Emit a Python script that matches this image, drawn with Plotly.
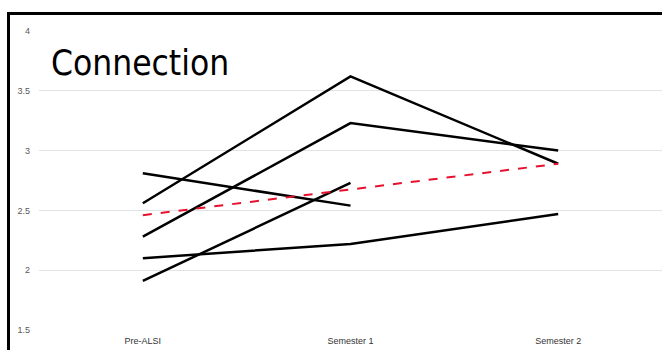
import plotly.graph_objects as go

categories = ["Pre-ALSI", "Semester 1", "Semester 2"]
student_a = [2.56, 3.62, 2.89]
student_b = [2.28, 3.23, 3.00]
student_c = [2.81, 2.54, None]
student_d = [1.91, 2.73, None]
student_e = [2.10, 2.22, 2.47]
trend = [2.46, 2.675, 2.89]

y_ticks = [1.5, 2, 2.5, 3, 3.5, 4]
y_ticktext = ["1.5", "2", "2.5", "3", "3.5", "4"]

fig = go.Figure()
for name, vals in [("A", student_a), ("B", student_b), ("C", student_c),
                   ("D", student_d), ("E", student_e)]:
    fig.add_trace(go.Scatter(x=categories, y=vals, mode="lines", name=name,
                             line=dict(color="black", width=2.5),
                             connectgaps=False, showlegend=False))
fig.add_trace(go.Scatter(x=categories, y=trend, mode="lines", name="Trend",
                         line=dict(color="#e8112d", width=2, dash="dash"),
                         showlegend=False))

fig.update_layout(
    width=662, height=350,
    margin=dict(l=39, r=0, t=31, b=20),
    paper_bgcolor="white", plot_bgcolor="white",
    font=dict(family="Liberation Sans, Arial, sans-serif", size=9, color="#595959"),
    xaxis=dict(type="category", range=[-0.5, 2.5], showgrid=False, zeroline=False,
               showline=False, ticks="", ticklabelstandoff=4,
               tickfont=dict(size=9, color="#333333")),
    yaxis=dict(range=[1.5, 4], tickvals=y_ticks, ticktext=y_ticktext,
               showgrid=True, gridcolor="#e2e2e2", gridwidth=1, zeroline=False,
               showline=False, ticks="", ticklabelstandoff=8,
               tickfont=dict(size=9, color="#595959")),
    annotations=[
        dict(text="Connection", xref="paper", yref="paper",
             x=0.016, y=0.894, xanchor="left", yanchor="middle",
             showarrow=False,
             font=dict(family="DejaVu Sans Condensed, sans-serif",
                       size=35, color="black")),
        dict(text=".", xref="paper", yref="paper",
             x=-0.0506, y=1.0635, xanchor="left", yanchor="top",
             showarrow=False, width=700, height=400, borderpad=0,
             bordercolor="black", borderwidth=3, bgcolor="rgba(0,0,0,0)",
             font=dict(size=2, color="rgba(0,0,0,0)")),
    ],
)

fig.write_html("out.html", config={"displayModeBar": False})
